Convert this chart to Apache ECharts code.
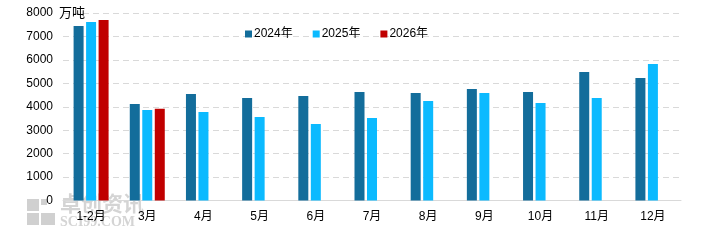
<!DOCTYPE html>
<html><head><meta charset="utf-8">
<script src="https://cdn.jsdelivr.net/npm/echarts@6/dist/echarts.min.js"></script>
<style>html,body{margin:0;padding:0;background:#fff}#c{width:702px;height:251px}</style>
</head><body><div id="c"></div>
<script>
const categories = ['1-2月','3月','4月','5月','6月','7月','8月','9月','10月','11月','12月'];
const seriesNames = ['2024年','2025年','2026年'];
const v2024 = [7445,4117,4544,4373,4458,4629,4586,4757,4629,5482,5226];
const v2025 = [7615,3861,3776,3562,3264,3520,4245,4586,4160,4373,5823];
const v2026 = [7700,3917,null,null,null,null,null,null,null,null,null];
const yTicks = [0,1000,2000,3000,4000,5000,6000,7000,8000];
const colors = ['#136d9b','#0bbaff','#c00000'];

const font = '"Liberation Sans", "Noto Sans CJK SC", sans-serif';
const chart = echarts.init(document.getElementById('c'), null, {renderer:'canvas'});
const data = [v2024, v2025, v2026];
chart.setOption({
  animation:false,
  color: colors,
  grid:{left:63, right:21, top:13, bottom:50.5, containLabel:false},
  legend:{
    top:23, left:240, itemWidth:7, itemHeight:7, itemGap:20,
    icon:'rect',
    textStyle:{fontSize:12, color:'#000', fontFamily:font, padding:[0,0,0,-3]},
    data: seriesNames
  },
  graphic:[
    {type:'rect', left:27, top:199, shape:{width:12,height:12}, style:{fill:'#d0d0d0'}, z:-1},
    {type:'rect', left:41, top:199, shape:{width:6,height:6}, style:{fill:'#d0d0d0'}, z:-1},
    {type:'rect', left:27, top:213, shape:{width:12,height:12}, style:{fill:'#d0d0d0'}, z:-1},
    {type:'rect', left:41, top:213, shape:{width:14,height:12}, style:{fill:'#d0d0d0'}, z:-1},
    {type:'text', left:60, top:193, style:{text:'卓创资讯', font:'bold 21px "Noto Sans CJK SC"', fill:'#d4d4d4'}, z:-1},
    {type:'text', left:60, top:215, style:{text:'SCI99.COM', font:'bold 14px "Liberation Serif"', fill:'#d4d4d4'}, z:-1}
  ],
  xAxis:{
    type:'category', data:categories,
    axisLine:{show:true, lineStyle:{color:'#d9d9d9', width:1}},
    axisTick:{show:false},
    axisLabel:{fontSize:12, color:'#000', fontFamily:font, margin:10, interval:0}
  },
  yAxis:{
    type:'value', min:yTicks[0], max:yTicks[yTicks.length-1], interval:1000,
    name:'万吨', nameLocation:'end', nameGap:0,
    nameTextStyle:{fontSize:13, color:'#000', fontFamily:font, align:'left', padding:[0,0,0,-4], verticalAlign:'middle'},
    axisLine:{show:false}, axisTick:{show:false},
    axisLabel:{fontSize:12, color:'#000', fontFamily:font, margin:10, formatter:v=>String(v)},
    splitLine:{show:true, lineStyle:{color:'#d9d9d9', type:[6,4], width:1}}
  },
  series: seriesNames.map((n,i)=>({
    name:n, type:'bar', data:data[i], barWidth:10, barGap:'25%'
  }))
});
</script></body></html>
